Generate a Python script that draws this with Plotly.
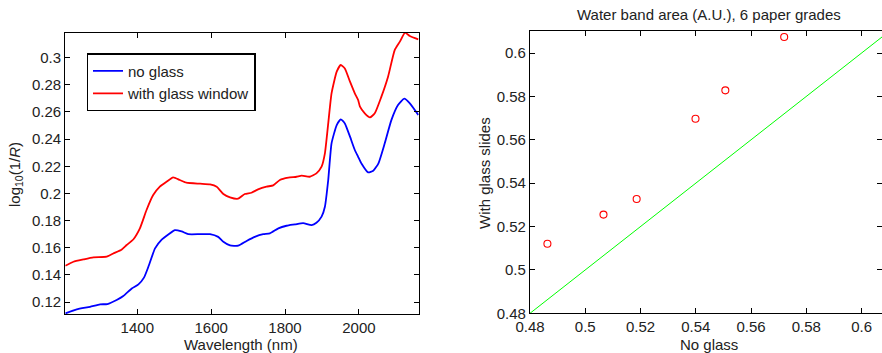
import plotly.graph_objects as go

# NIR spectra of paper, with and without a glass window (wavelength in nm)
wl_blue = [1205, 1236, 1272, 1299, 1319, 1344, 1362, 1385, 1403, 1418, 1430, 1448, 1466, 1484,
           1502, 1520, 1538, 1570, 1597, 1619, 1633, 1651, 1673, 1696, 1718, 1741, 1759, 1782,
           1804, 1827, 1849, 1872, 1885, 1899, 1908, 1917, 1926, 1940, 1951, 1962, 1976, 1989,
           1998, 2007, 2025, 2039, 2053, 2070, 2088, 2106, 2123, 2138, 2161]
no_glass = [0.1116, 0.1146, 0.1165, 0.1183, 0.1185, 0.1215, 0.1244, 0.1300, 0.1330, 0.1380,
            0.1460, 0.1595, 0.1660, 0.1698, 0.1730, 0.1720, 0.1700, 0.1700, 0.1700, 0.1680,
            0.1644, 0.1617, 0.1615, 0.1650, 0.1680, 0.1700, 0.1706, 0.1743, 0.1762, 0.1772,
            0.1782, 0.1767, 0.1784, 0.1829, 0.1902, 0.2099, 0.2369, 0.2504, 0.2546, 0.2516,
            0.2418, 0.2320, 0.2270, 0.2220, 0.2155, 0.2167, 0.2222, 0.2369, 0.2540, 0.2651,
            0.2698, 0.2664, 0.2578]

wl_red = [1205, 1227, 1254, 1281, 1317, 1335, 1358, 1371, 1389, 1407, 1425, 1443, 1461, 1479,
          1497, 1515, 1533, 1570, 1597, 1615, 1633, 1651, 1673, 1691, 1709, 1727, 1750, 1768,
          1786, 1809, 1831, 1845, 1867, 1885, 1899, 1908, 1917, 1926, 1940, 1951, 1962, 1976,
          1989, 1998, 2003, 2016, 2030, 2043, 2061, 2079, 2097, 2111, 2125, 2138, 2161]
with_glass = [0.1467, 0.1497, 0.1514, 0.1529, 0.1534, 0.1558, 0.1588, 0.1620, 0.1661, 0.1743,
              0.1878, 0.1988, 0.2050, 0.2086, 0.2118, 0.2099, 0.2079, 0.2072, 0.2067, 0.2050,
              0.1996, 0.1971, 0.1961, 0.1996, 0.2005, 0.2030, 0.2050, 0.2059, 0.2099, 0.2116,
              0.2123, 0.2131, 0.2123, 0.2148, 0.2197, 0.2295, 0.2516, 0.2737, 0.2897, 0.2946,
              0.2921, 0.2823, 0.2737, 0.2688, 0.2639, 0.2590, 0.2560, 0.2590, 0.2713, 0.2860,
              0.3056, 0.3118, 0.3184, 0.3160, 0.3135]

# Water band area for six paper grades
area_no_glass = [0.4863, 0.5066, 0.5186, 0.5399, 0.5507, 0.5720]
area_glass_slides = [0.5121, 0.5255, 0.5327, 0.5697, 0.5828, 0.6074]
identity_ends = [0.48, 0.6074]

wl_ticks = [1400, 1600, 1800, 2000]
abs_ticks = [0.12, 0.14, 0.16, 0.18, 0.2, 0.22, 0.24, 0.26, 0.28, 0.3]
area_ticks = [0.48, 0.5, 0.52, 0.54, 0.56, 0.58, 0.6]

FONT = "Liberation Sans, Arial, sans-serif"
FS = 15
W, H = 882, 353

fig = go.Figure()

fig.add_trace(go.Scatter(x=wl_blue, y=no_glass, mode="lines", name="no glass",
                         line=dict(color="#0000ff", width=1.8, shape="spline", smoothing=0.5),
                         xaxis="x", yaxis="y"))
fig.add_trace(go.Scatter(x=wl_red, y=with_glass, mode="lines", name="with glass window",
                         line=dict(color="#ff0000", width=1.8, shape="spline", smoothing=0.5),
                         xaxis="x", yaxis="y"))

fig.add_trace(go.Scatter(x=identity_ends, y=identity_ends, mode="lines", showlegend=False,
                         line=dict(color="#00ff00", width=1), xaxis="x2", yaxis="y2"))
fig.add_trace(go.Scatter(x=area_no_glass, y=area_glass_slides, mode="markers", showlegend=False,
                         marker=dict(symbol="circle-open", size=7, color="#ff0000",
                                     line=dict(width=1.1, color="#ff0000")),
                         xaxis="x2", yaxis="y2"))

axis_common = dict(showline=True, linecolor="black", linewidth=1.3, mirror="ticks",
                   ticks="inside", ticklen=5, tickcolor="black", showgrid=False,
                   zeroline=False, automargin=False, tickfont=dict(size=FS, color="#222"))


def label(text, px, py, angle=0):
    return dict(text=text, xref="paper", yref="paper", x=px / W, y=1 - py / H,
                xanchor="center", yanchor="middle", textangle=angle, showarrow=False,
                font=dict(size=FS, color="#222"))


fig.update_layout(
    width=W, height=H,
    margin=dict(l=0, r=0, t=0, b=0),
    paper_bgcolor="white", plot_bgcolor="white",
    font=dict(family=FONT, size=FS, color="#222"),
    showlegend=True,
    legend=dict(x=86.7 / W, y=1 - 53.3 / H, xanchor="left", yanchor="top",
                bordercolor="black", borderwidth=1.3, bgcolor="white",
                font=dict(size=FS, color="#222"), tracegroupgap=0, itemwidth=30),
    xaxis=dict(domain=[65.3 / W, 418.7 / W], range=[1205, 2162],
               tickvals=wl_ticks, anchor="y", **axis_common),
    yaxis=dict(domain=[1 - 314 / H, 1 - 32.7 / H], range=[0.1112, 0.3184],
               tickvals=abs_ticks, anchor="x", **axis_common),
    xaxis2=dict(domain=[530 / W, 1.0], range=[0.48, 0.6074],
                tickvals=area_ticks, anchor="y2", **axis_common),
    yaxis2=dict(domain=[1 - 313.3 / H, 1 - 30.7 / H], range=[0.48, 0.6103],
                tickvals=area_ticks, anchor="x2", **axis_common),
    annotations=[
        label("Water band area (A.U.), 6 paper grades", 709, 15),
        label("Wavelength (nm)", 241, 344),
        label("log<sub>10</sub>(1/<i>R</i>)", 15, 175, -90),
        label("No glass", 709, 344),
        label("With glass slides", 484, 173, -90),
    ],
)

fig.write_html("out.html")
